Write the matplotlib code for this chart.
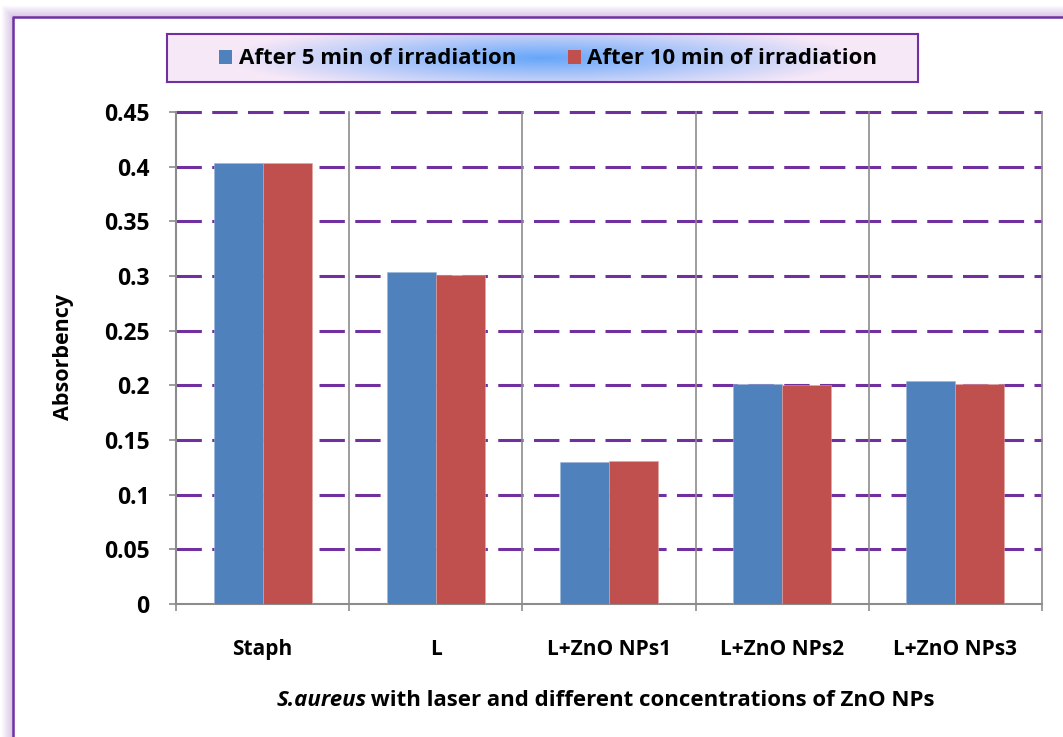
import matplotlib
matplotlib.use('Agg')
import matplotlib.pyplot as plt
import numpy as np
from matplotlib.patches import Rectangle
from matplotlib.lines import Line2D

# ─── Data ─────────────────────────────────────────────────────────────────────
categories = ["Staph", "L", "L+ZnO NPs1", "L+ZnO NPs2", "L+ZnO NPs3"]
after_5min = [0.403, 0.304, 0.130, 0.201, 0.204]
after_10min = [0.403, 0.301, 0.131, 0.200, 0.201]
series_names = ["After 5 min of irradiation", "After 10 min of irradiation"]
y_ticks = [0, 0.05, 0.1, 0.15, 0.2, 0.25, 0.3, 0.35, 0.4, 0.45]
y_labels = ["0", "0.05", "0.1", "0.15", "0.2", "0.25", "0.3", "0.35", "0.4", "0.45"]

# ─── Colours ──────────────────────────────────────────────────────────────────
C_BLUE = "#4F81BD"
C_RED = "#C0504D"
C_PURP = "#7030A0"
C_AXIS = "#8C8C8C"

plt.rcParams['font.family'] = ["Open Sans", "DejaVu Sans"]
plt.rcParams['font.weight'] = 'bold'

W, H = 1063, 737
fig = plt.figure(figsize=(W / 100, H / 100), dpi=100)
fig.patch.set_facecolor('white')


def fx(px):
    return px / W


def fy(py):
    return 1 - py / H


# ─── Outer frame with soft shadow ─────────────────────────────────────────────
for k in range(1, 12):
    fig.add_artist(Line2D([fx(13 - k), fx(13 - k), 1.01], [-0.01, fy(17 - k), fy(17 - k)],
                          transform=fig.transFigure, color=C_PURP,
                          alpha=0.22 * (1 - k / 12), lw=1.0))
fig.add_artist(Line2D([fx(13), fx(13), 1.01], [-0.01, fy(17), fy(17)],
                      transform=fig.transFigure, color=C_PURP, lw=1.8))

# ─── Main axes ────────────────────────────────────────────────────────────────
ax = fig.add_axes([fx(176), fy(604), fx(1042) - fx(176), fy(112) - fy(604)])
x = np.arange(len(categories))
w = 0.283
ax.bar(x - w / 2, after_5min, w, color=C_BLUE, zorder=3, edgecolor="#9DB6D8", linewidth=0.4)
ax.bar(x + w / 2, after_10min, w, color=C_RED, zorder=3, edgecolor="#DFA6A4", linewidth=0.4)
ax.set_xlim(-0.5, len(categories) - 0.5)
ax.set_ylim(0, 0.45)

for yv in y_ticks[1:]:
    ax.axhline(yv, color=C_PURP, lw=2.2, ls=(0, (8.3, 3.4)), zorder=1, clip_on=False)
for b in np.arange(len(categories)) + 0.5:
    ax.axvline(b, color=C_AXIS, lw=1.2, zorder=1, clip_on=False)

for s in ['top', 'right']:
    ax.spines[s].set_visible(False)
for s in ['left', 'bottom']:
    ax.spines[s].set_color(C_AXIS)
    ax.spines[s].set_linewidth(1.5)

ax.set_yticks(y_ticks)
ax.set_yticklabels(y_labels, fontsize=16.5, fontweight='bold')
ax.tick_params(axis='y', length=5, color=C_AXIS, width=1.2, pad=14)

ax.set_xticks(x)
ax.set_xticklabels(categories, fontsize=15, fontweight='bold')
ax.tick_params(axis='x', which='major', length=0, pad=25)
ax.set_xticks(np.arange(len(categories) + 1) - 0.5, minor=True)
ax.tick_params(axis='x', which='minor', length=5, color=C_AXIS, width=1.2)

# ─── Axis titles ──────────────────────────────────────────────────────────────
fig.text(fx(64), fy(357), "Absorbency", rotation=90, ha='center', va='center',
         fontsize=15.5, fontweight='bold')
t1 = fig.text(fx(277), fy(711), "S.aureus", ha='left', va='bottom',
              fontsize=16, fontweight='bold', style='italic')
ax.annotate(" with laser and different concentrations of ZnO NPs", xy=(0.98, 0),
            xycoords=t1, ha='left', va='bottom', fontsize=16, fontweight='bold',
            annotation_clip=False)

# ─── Legend with gradient fill ────────────────────────────────────────────────
lx0, lx1, ly0, ly1 = 167, 918, 34, 82
lax = fig.add_axes([fx(lx0), fy(ly1), fx(lx1) - fx(lx0), fy(ly0) - fy(ly1)])
gx, gy = np.meshgrid(np.linspace(0, 1, 400), np.linspace(0, 1, 60))
d = np.clip(np.sqrt(((gx - 0.5) / 0.42) ** 2 + ((gy - 0.5) / 0.75) ** 2), 0, 1)
c_mid = np.array([0.40, 0.65, 0.98])
c_edge = np.array([0.97, 0.91, 0.97])
img = c_mid[None, None, :] * (1 - d[..., None]) + c_edge[None, None, :] * d[..., None]
lax.imshow(img, extent=[0, 1, 0, 1], aspect='auto', origin='lower')
lax.set_xlim(0, 1)
lax.set_ylim(0, 1)
lax.set_xticks([])
lax.set_yticks([])
for s in lax.spines.values():
    s.set_color(C_PURP)
    s.set_linewidth(1.5)


def lu(px):
    return (px - lx0) / (lx1 - lx0)


def lv(py):
    return (ly1 - py) / (ly1 - ly0)


for sq_x, txt_x, col, name in [(219, 239, C_BLUE, series_names[0]),
                               (568, 587, C_RED, series_names[1])]:
    lax.add_patch(Rectangle((lu(sq_x), lv(64)), lu(sq_x + 13) - lu(sq_x), lv(50) - lv(64),
                            facecolor=col, edgecolor='none'))
    lax.text(lu(txt_x), lv(58), name, ha='left', va='center', fontsize=16, fontweight='bold')

fig.savefig('out.png', dpi=100, facecolor='white')
